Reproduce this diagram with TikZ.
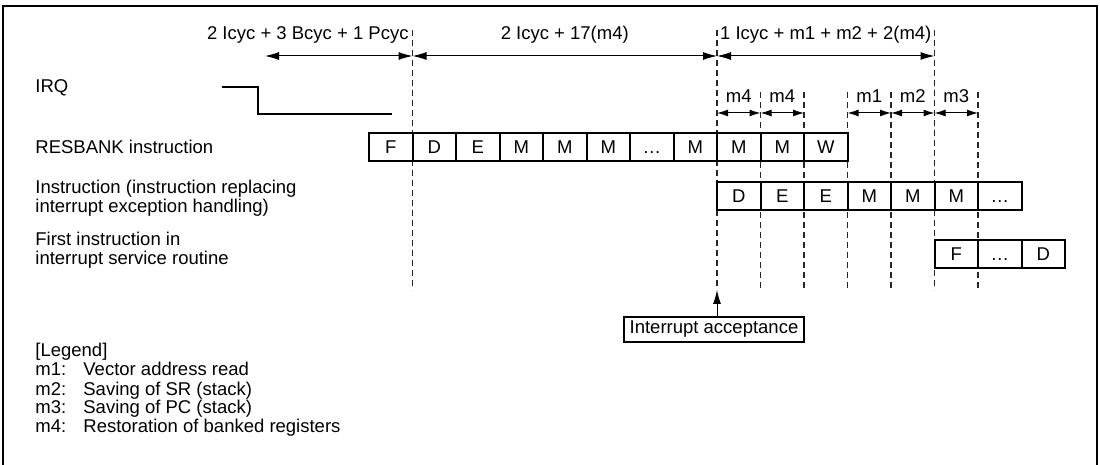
\documentclass[tikz,border=0pt]{standalone}
\usepackage{fontspec}
\setmainfont{Liberation Sans}
\usetikzlibrary{arrows.meta, positioning, calc}

\begin{document}
\begin{tikzpicture}[
    x=0.5pt, y=-0.5pt,
    font=\fontsize{9.25}{9.5}\selectfont,
    cell/.style={draw, line width=1pt, minimum width=21.75pt, minimum height=14pt, inner sep=0pt,
                 text height=6.7pt, text depth=0pt},
    guide/.style={line width=0.6pt, dash pattern=on 3pt off 2pt, black!85},
    dimarr/.style={{Latex[length=7pt,width=4pt]}-{Latex[length=7pt,width=4pt]}, line width=0.5pt},
    cycarr/.style={{Latex[length=5.5pt,width=3.5pt]}-{Latex[length=5.5pt,width=3.5pt]}, line width=0.5pt},
    rowlbl/.style={anchor=west, align=left, inner sep=0pt},
    leglbl/.style={anchor=base west, inner sep=0pt},
    lbl/.style={inner sep=0pt},
]
\useasboundingbox (0,0) rectangle (1100,465);
\draw[line width=1pt] (3,465) -- (3,6) -- (1097,6) -- (1097,465);
% ------------------------------------------------ row labels
\node[rowlbl] (lblirq) at (35,88) {IRQ};
\node[rowlbl] (lblres) at (35,147) {RESBANK instruction};
\node[rowlbl] (lblinst) at (35,198) {Instruction (instruction replacing\\interrupt exception handling)};
\node[rowlbl] (lblisr) at (35,250) {First instruction in\\interrupt service routine};
% ------------------------------------------------ guide lines
\foreach \k/\top in {1/30, 8/30, 9/92, 10/92, 11/92, 12/92, 13/30, 14/92} {
  \coordinate (gt\k) at ({369+43.5*\k},\top);
  \coordinate (gb\k) at ({369+43.5*\k},290);
  \draw[guide] (gt\k) -- (gb\k);
}
% ------------------------------------------------ cycle spans
\coordinate (s0) at (265,56);
\draw[dimarr] (s0) -- (gt1 |- s0);
\draw[dimarr] (gt1 |- s0) -- (gt8 |- s0);
\draw[dimarr] (gt8 |- s0) -- (gt13 |- s0);
\node[lbl, anchor=east] (t1) at (409,35) {2 Icyc + 3 Bcyc + 1 Pcyc};
\node[lbl] (t2) at (564.75,35) {2 Icyc + 17(m4)};
\node[lbl] (t3) at (825.75,35) {1 Icyc + m1 + m2 + 2(m4)};
\coordinate (c0) at (0,113);
\foreach \a/\b/\t in {8/9/m4, 9/10/m4, 11/12/m1, 12/13/m2, 13/14/m3} {
  \draw[cycarr] (gt\a |- c0) -- (gt\b |- c0);
  \node[lbl] (m\a) at ({369+43.5*(\a+0.5)},96) {\t};
}
% ------------------------------------------------ IRQ
\draw[line width=0.9pt] (222,87) -- (258,87) -- (258,114) -- (392,114);
% ------------------------------------------------ pipeline stages
\foreach \t [count=\i from 0] in {F,D,E,M,M,M,\ldots,M,M,M,W}
  \node[cell] (rb\i) at ({369+43.5*(\i+0.5)},147) {\t};
\foreach \t [count=\i from 8] in {D,E,E,M,M,M,\ldots}
  \node[cell] (in\i) at ({369+43.5*(\i+0.5)},196) {\t};
\foreach \t [count=\i from 13] in {F,\ldots,D}
  \node[cell] (isr\i) at ({369+43.5*(\i+0.5)},254) {\t};
% ------------------------------------------------ acceptance
\node[draw, line width=1pt, inner xsep=3pt, inner ysep=0pt, minimum height=12.5pt] (accept) at (714,329.5) {Interrupt acceptance};
\draw[-{Latex[length=7pt,width=4pt]}, line width=0.5pt] (accept.north -| gb8) -- (gb8);
% ------------------------------------------------ legend
\node[leglbl] (leg) at (35,357) {[Legend]};
\foreach \m/\d [count=\j] in {m1/Vector address read, m2/Saving of SR (stack), m3/Saving of PC (stack), m4/Restoration of banked registers} {
  \node[leglbl] (lm\j) at (35,{357+19*\j}) {\m:};
  \node[leglbl] (ld\j) at (83,{357+19*\j}) {\d};
}
\end{tikzpicture}
\end{document}
